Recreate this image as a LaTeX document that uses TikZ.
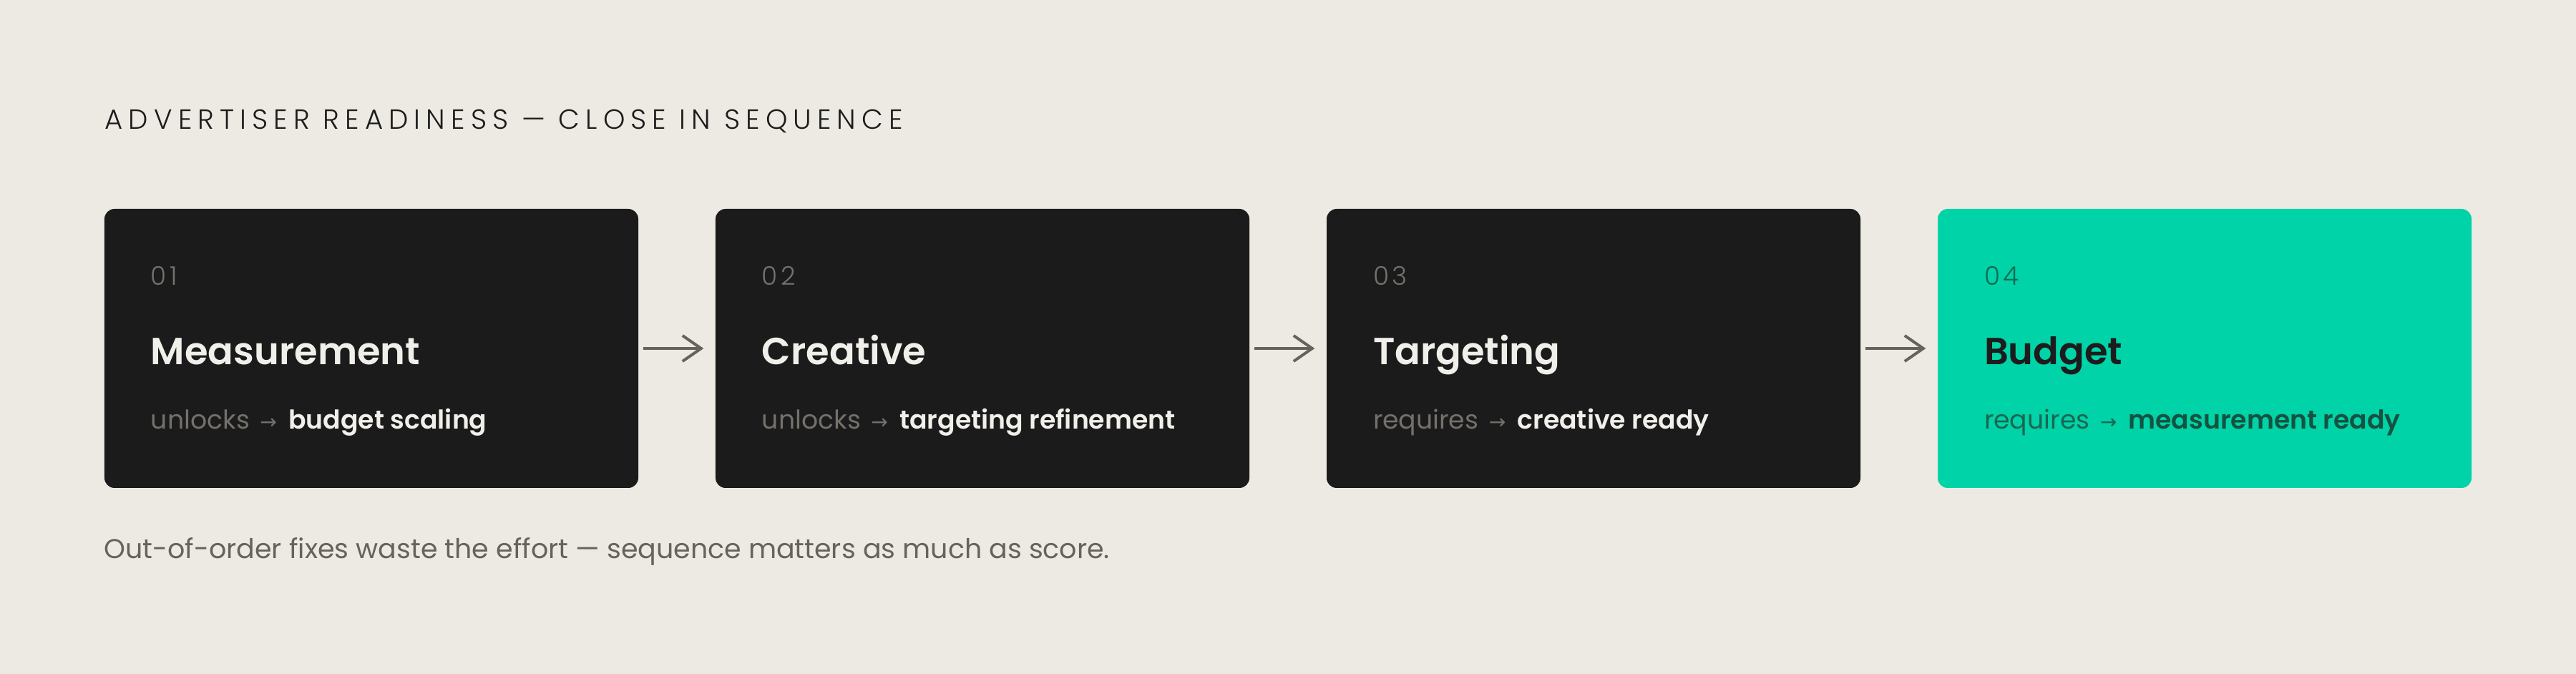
\documentclass[tikz,border=0pt]{standalone}
\usepackage{fontspec}
\setmainfont{Poppins}[BoldFont={Poppins SemiBold}]
\newfontfamily\lightfont{Poppins Light}
\newfontfamily\arrowfont{DejaVu Sans}
\usetikzlibrary{calc, positioning}
\usetikzlibrary{arrows.meta}
\definecolor{paper}{HTML}{EDEAE3}
\definecolor{cardblack}{HTML}{1B1B1B}
\definecolor{cardgreen}{HTML}{00D3A7}
\definecolor{inkdark}{HTML}{1C1C1C}
\definecolor{arrowgray}{HTML}{66635E}
\definecolor{darknum}{HTML}{75726D}
\definecolor{darklead}{HTML}{74716B}
\definecolor{darktarget}{HTML}{F1EFE9}
\definecolor{greennum}{HTML}{0F6B52}
\definecolor{greenlead}{HTML}{1A6652}
\definecolor{greentarget}{HTML}{155241}
\def\cw{7.46cm}
\def\ch{3.9cm}
\tikzset{
    card/.style = {
        rectangle, rounded corners=0.14cm, minimum width=\cw, minimum height=\ch, inner sep=0pt
    },
    dark card/.style = {card, fill=cardblack},
    green card/.style = {card, fill=cardgreen},
    dark num/.style = {inner sep=0pt, text=darknum, font=\lightfont\fontsize{10.2}{12}\selectfont\addfontfeature{LetterSpace=12}},
    green num/.style = {dark num, text=greennum},
    dark title/.style = {inner sep=0pt, text=darktarget, font=\bfseries\fontsize{15}{18}\selectfont},
    green title/.style = {dark title, text=inkdark},
    dark note/.style = {inner sep=0pt, text=darklead, font=\fontsize{10.3}{12}\selectfont},
    green note/.style = {dark note, text=greenlead},
    pics/Stage/.style n args = {5}{
        code = {
            \node [#1 card](-card){};
            \node [#1 num, anchor=base west](-num) at ([shift={(0.65,-1.07)}]-card.north west){#2};
            \node [#1 title, anchor=base west](-title) at ([shift={(0.65,-2.18)}]-card.north west){#3};
            \node [#1 note, anchor=base west](-note) at ([shift={(0.65,-3.08)}]-card.north west)
                {#4\hspace{0.4em}{\arrowfont\fontsize{8}{10}\selectfont →}\hspace{0.45em}\textcolor{#1target}{\bfseries #5}};
    }}
}

\begin{document}
\begin{tikzpicture}
        % Background and heading
        \fill[paper] (0,0) rectangle (36,9.42);
        \node[anchor=base west, inner sep=0pt, text=inkdark, font=\lightfont\fontsize{11}{13}\selectfont\addfontfeature{LetterSpace=21}]
            (heading) at (1.46,7.61) {ADVERTISER READINESS — CLOSE IN SEQUENCE};
        % Place the cards
        \matrix (m) [ampersand replacement=\&, column sep = 1.08cm] at (18,4.55) {
        \pic (b1) {Stage={dark}{01}{Measurement}{unlocks}{budget scaling}}; \&
        \pic (b2) {Stage={dark}{02}{Creative}{unlocks}{targeting refinement}}; \&
        \pic (b3) {Stage={dark}{03}{Targeting}{requires}{creative ready}}; \&
        \pic (b4) {Stage={green}{04}{Budget}{requires}{measurement ready}}; \\
        };
        \begin{scope}[draw=arrowgray, line width=0.04cm, >={Straight Barb[length=0.26cm,width=0.36cm]},
            shorten <=0.06cm, shorten >=0.16cm]
            \draw[->] (b1-card.east) -- (b2-card.west);
            \draw[->] (b2-card.east) -- (b3-card.west);
            \draw[->] (b3-card.east) -- (b4-card.west);
        \end{scope}
        \node[anchor=base west, inner sep=0pt, text=arrowgray, font=\fontsize{10.8}{13}\selectfont]
            (footnote) at (1.45,1.61) {Out-of-order fixes waste the effort — sequence matters as much as score.};
    \end{tikzpicture}
\end{document}
